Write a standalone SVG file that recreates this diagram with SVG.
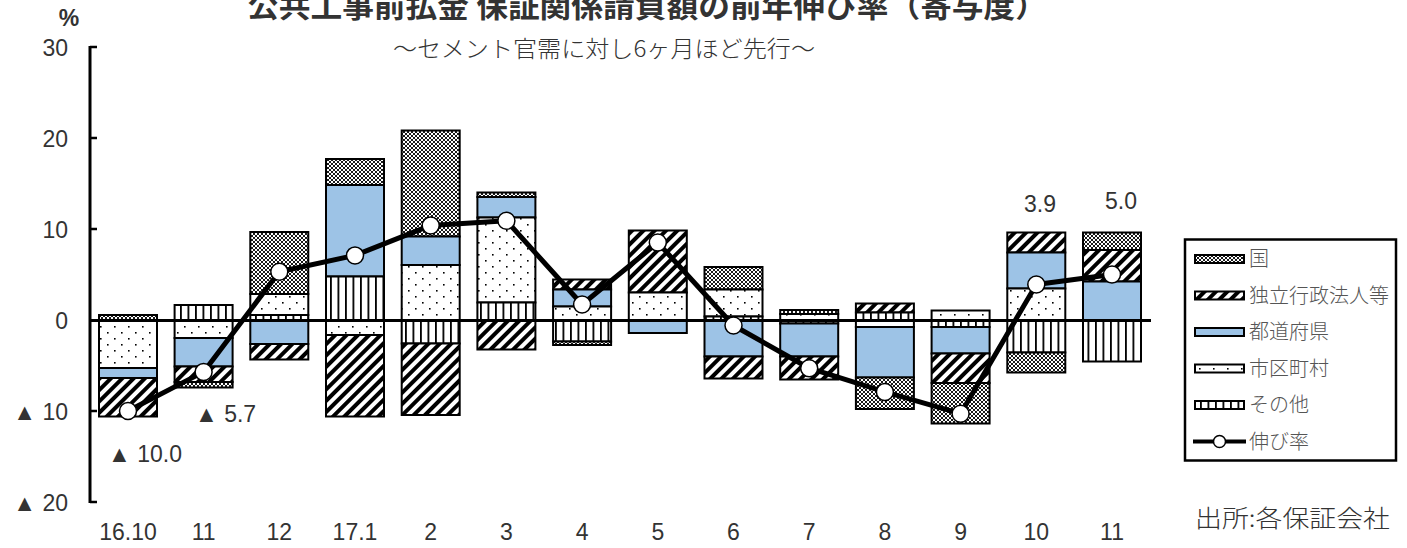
<svg xmlns="http://www.w3.org/2000/svg" width="1407" height="548" viewBox="0 0 1407 548">
<style>
.seg{stroke:#000;stroke-width:2}
.k{fill:url(#pKuni)}
.d{fill:url(#pDoku)}
.t{fill:#9DC3E6}
.s{fill:url(#pShi)}
.o{fill:url(#pSono)}
.num{font-family:"Liberation Sans",Arial,sans-serif;font-size:23px;fill:#333}
.yl{text-anchor:end}
.xl{text-anchor:middle}
.jp{font-family:"Noto Sans CJK JP","Noto Sans",sans-serif;fill:#333}
.leg{font-size:20px;fill:#555;font-weight:300}
.mk{fill:#fff;stroke:#000;stroke-width:1.5}
</style>
<defs>
<pattern id="pKuni" width="4" height="4" patternUnits="userSpaceOnUse">
<rect width="4" height="4" fill="#fff"/>
<path d="M0,0 L4,4 M4,0 L0,4" stroke="#000" stroke-width="0.9"/>
</pattern>
<pattern id="pDoku" width="8" height="8" patternUnits="userSpaceOnUse" patternTransform="rotate(45)">
<rect width="8" height="8" fill="#fff"/>
<rect width="4" height="8" fill="#000"/>
</pattern>
<pattern id="pShi" width="14" height="12" patternUnits="userSpaceOnUse">
<rect width="14" height="12" fill="#fff"/>
<rect x="2" y="2" width="1.6" height="1.6" fill="#000"/>
<rect x="9" y="8" width="1.6" height="1.6" fill="#000"/>
</pattern>
<pattern id="pSono" width="7.5" height="10" patternUnits="userSpaceOnUse">
<rect width="7.5" height="10" fill="#fff"/>
<rect x="0" width="1.8" height="10" fill="#000"/>
</pattern>
</defs>
<rect width="1407" height="548" fill="#fff"/>

<g id="title">
<text class="jp" x="247" y="17" font-size="30" font-weight="bold" fill="#222" textLength="800" lengthAdjust="spacingAndGlyphs">公共工事前払金 保証関係請負額の前年伸び率（寄与度）</text>
<text class="jp" x="393" y="57" font-size="23" font-weight="300" textLength="422" lengthAdjust="spacingAndGlyphs">〜セメント官需に対し6ヶ月ほど先行〜</text>
</g>

<g id="axis">
<line x1="90" y1="46" x2="90" y2="503" stroke="#000" stroke-width="3"/>
<path d="M90,47 H97 M90,138 H97 M90,229 H97 M90,411 H97 M90,502 H97" stroke="#000" stroke-width="2.5"/>
<text class="num" x="69" y="26" font-weight="bold" text-anchor="middle">%</text>
<text class="num yl" x="68" y="56">30</text>
<text class="num yl" x="68" y="147">20</text>
<text class="num yl" x="68" y="238">10</text>
<text class="num yl" x="68" y="329">0</text>
<text class="num yl" x="68" y="420">▲ 10</text>
<text class="num yl" x="68" y="511">▲ 20</text>
<text class="num xl" x="128" y="540">16.10</text>
<text class="num xl" x="203.6" y="540">11</text>
<text class="num xl" x="279.3" y="540">12</text>
<text class="num xl" x="355" y="540">17.1</text>
<text class="num xl" x="430.7" y="540">2</text>
<text class="num xl" x="506.4" y="540">3</text>
<text class="num xl" x="582.1" y="540">4</text>
<text class="num xl" x="657.8" y="540">5</text>
<text class="num xl" x="733.5" y="540">6</text>
<text class="num xl" x="809.2" y="540">7</text>
<text class="num xl" x="884.9" y="540">8</text>
<text class="num xl" x="960.6" y="540">9</text>
<text class="num xl" x="1036.3" y="540">10</text>
<text class="num xl" x="1112" y="540">11</text>
</g>

<g id="bars">
<g id="bar-16-10">
<rect class="seg k" x="99" y="315" width="58" height="5"/>
<rect class="seg s" x="99" y="320" width="58" height="48"/>
<rect class="seg t" x="99" y="368" width="58" height="10"/>
<rect class="seg d" x="99" y="378" width="58" height="38.5"/>
</g>
<g id="bar-11a">
<rect class="seg o" x="174.6" y="305" width="58" height="15"/>
<rect class="seg s" x="174.6" y="320" width="58" height="18"/>
<rect class="seg t" x="174.6" y="338" width="58" height="28.5"/>
<rect class="seg d" x="174.6" y="366.5" width="58" height="15.5"/>
<rect class="seg k" x="174.6" y="382" width="58" height="5.5"/>
</g>
<g id="bar-12">
<rect class="seg k" x="250.3" y="232" width="58" height="62"/>
<rect class="seg s" x="250.3" y="294" width="58" height="21"/>
<rect class="seg o" x="250.3" y="315" width="58" height="5"/>
<rect class="seg t" x="250.3" y="320" width="58" height="24"/>
<rect class="seg d" x="250.3" y="344" width="58" height="15.5"/>
</g>
<g id="bar-17-1">
<rect class="seg k" x="326" y="159" width="58" height="26"/>
<rect class="seg t" x="326" y="185" width="58" height="91.5"/>
<rect class="seg o" x="326" y="276.5" width="58" height="43.5"/>
<rect class="seg s" x="326" y="320" width="58" height="15"/>
<rect class="seg d" x="326" y="335" width="58" height="81.5"/>
</g>
<g id="bar-2">
<rect class="seg k" x="401.7" y="130.5" width="58" height="106"/>
<rect class="seg t" x="401.7" y="236.5" width="58" height="28.5"/>
<rect class="seg s" x="401.7" y="265" width="58" height="55"/>
<rect class="seg o" x="401.7" y="320" width="58" height="23.5"/>
<rect class="seg d" x="401.7" y="343.5" width="58" height="71.5"/>
</g>
<g id="bar-3">
<rect class="seg k" x="477.4" y="192.5" width="58" height="4.5"/>
<rect class="seg t" x="477.4" y="197" width="58" height="20.5"/>
<rect class="seg s" x="477.4" y="217.5" width="58" height="85"/>
<rect class="seg o" x="477.4" y="302.5" width="58" height="17.5"/>
<rect class="seg d" x="477.4" y="320" width="58" height="29.5"/>
</g>
<g id="bar-4">
<rect class="seg d" x="553.1" y="279.5" width="58" height="10"/>
<rect class="seg t" x="553.1" y="289.5" width="58" height="17"/>
<rect class="seg s" x="553.1" y="306.5" width="58" height="13.5"/>
<rect class="seg o" x="553.1" y="320" width="58" height="21.5"/>
<rect class="seg k" x="553.1" y="341.5" width="58" height="3.5"/>
</g>
<g id="bar-5">
<rect class="seg d" x="628.8" y="230.5" width="58" height="62"/>
<rect class="seg s" x="628.8" y="292.5" width="58" height="27.5"/>
<rect class="seg t" x="628.8" y="320" width="58" height="13"/>
</g>
<g id="bar-6">
<rect class="seg k" x="704.5" y="267" width="58" height="22.5"/>
<rect class="seg s" x="704.5" y="289.5" width="58" height="27"/>
<rect class="seg o" x="704.5" y="316.5" width="58" height="3.5"/>
<rect class="seg t" x="704.5" y="320" width="58" height="36.5"/>
<rect class="seg d" x="704.5" y="356.5" width="58" height="22"/>
</g>
<g id="bar-7">
<rect class="seg k" x="780.2" y="310" width="58" height="4"/>
<rect class="seg s" x="780.2" y="314" width="58" height="6"/>
<rect class="seg o" x="780.2" y="320" width="58" height="3.5"/>
<rect class="seg t" x="780.2" y="323.5" width="58" height="33"/>
<rect class="seg d" x="780.2" y="356.5" width="58" height="23"/>
</g>
<g id="bar-8">
<rect class="seg d" x="855.9" y="303.5" width="58" height="9"/>
<rect class="seg o" x="855.9" y="312.5" width="58" height="7.5"/>
<rect class="seg s" x="855.9" y="320" width="58" height="7"/>
<rect class="seg t" x="855.9" y="327" width="58" height="50.5"/>
<rect class="seg k" x="855.9" y="377.5" width="58" height="31.5"/>
</g>
<g id="bar-9">
<rect class="seg s" x="931.6" y="310.5" width="58" height="9.5"/>
<rect class="seg o" x="931.6" y="320" width="58" height="7"/>
<rect class="seg t" x="931.6" y="327" width="58" height="26.5"/>
<rect class="seg d" x="931.6" y="353.5" width="58" height="29.5"/>
<rect class="seg k" x="931.6" y="383" width="58" height="40.5"/>
</g>
<g id="bar-10">
<rect class="seg d" x="1007.3" y="232.5" width="58" height="20"/>
<rect class="seg t" x="1007.3" y="252.5" width="58" height="36"/>
<rect class="seg s" x="1007.3" y="288.5" width="58" height="31.5"/>
<rect class="seg o" x="1007.3" y="320" width="58" height="32.5"/>
<rect class="seg k" x="1007.3" y="352.5" width="58" height="20"/>
</g>
<g id="bar-11b">
<rect class="seg k" x="1083" y="232.5" width="58" height="17.5"/>
<rect class="seg d" x="1083" y="250" width="58" height="31.5"/>
<rect class="seg t" x="1083" y="281.5" width="58" height="38.5"/>
<rect class="seg o" x="1083" y="320" width="58" height="41.5"/>
</g>
</g>

<line id="zero-line" x1="90" y1="320.5" x2="1151" y2="320.5" stroke="#000" stroke-width="3"/>

<g id="connectors">
<polyline points="128,411 203.6,371.9 279.3,271.8 355,255.4 430.7,225.4 506.4,220.8 582.1,304.5 657.8,242.6 733.5,325.5 809.2,368.2 884.9,391.9 960.6,413.7 1036.3,284.5 1112,274.5" fill="none" stroke="#000" stroke-width="5" stroke-linejoin="round"/>
</g>
<g id="markers">
<circle class="mk" cx="128" cy="411" r="8.5"/>
<circle class="mk" cx="203.6" cy="371.9" r="8.5"/>
<circle class="mk" cx="279.3" cy="271.8" r="8.5"/>
<circle class="mk" cx="355" cy="255.4" r="8.5"/>
<circle class="mk" cx="430.7" cy="225.4" r="8.5"/>
<circle class="mk" cx="506.4" cy="220.8" r="8.5"/>
<circle class="mk" cx="582.1" cy="304.5" r="8.5"/>
<circle class="mk" cx="657.8" cy="242.6" r="8.5"/>
<circle class="mk" cx="733.5" cy="325.5" r="8.5"/>
<circle class="mk" cx="809.2" cy="368.2" r="8.5"/>
<circle class="mk" cx="884.9" cy="391.9" r="8.5"/>
<circle class="mk" cx="960.6" cy="413.7" r="8.5"/>
<circle class="mk" cx="1036.3" cy="284.5" r="8.5"/>
<circle class="mk" cx="1112" cy="274.5" r="8.5"/>
</g>

<g id="value-labels">
<text class="num" x="108" y="462">▲ 10.0</text>
<text class="num" x="195" y="422">▲ 5.7</text>
<text class="num xl" x="1040" y="212">3.9</text>
<text class="num xl" x="1121" y="209">5.0</text>
</g>

<g id="legend">
<rect x="1185" y="239.5" width="211" height="221" fill="#fff" stroke="#000" stroke-width="2.5"/>
<rect class="seg k" x="1195" y="255" width="49" height="8"/>
<text class="jp leg" x="1249" y="266">国</text>
<rect class="seg d" x="1195" y="291.5" width="49" height="8"/>
<text class="jp leg" x="1249" y="302.5">独立行政法人等</text>
<rect class="seg t" x="1195" y="328" width="49" height="8"/>
<text class="jp leg" x="1249" y="339">都道府県</text>
<rect class="seg s" x="1195" y="364.5" width="49" height="8"/>
<text class="jp leg" x="1249" y="375.5">市区町村</text>
<rect class="seg o" x="1195" y="401" width="49" height="8"/>
<text class="jp leg" x="1249" y="412">その他</text>
<line x1="1193" y1="441.5" x2="1246" y2="441.5" stroke="#000" stroke-width="4"/>
<circle class="mk" cx="1219.5" cy="441.5" r="6"/>
<text class="jp leg" x="1249" y="448.5">伸び率</text>
</g>

<text id="source" class="jp" x="1195" y="527" font-size="24" font-weight="300" fill="#444" textLength="195" lengthAdjust="spacingAndGlyphs">出所:各保証会社</text>
</svg>
